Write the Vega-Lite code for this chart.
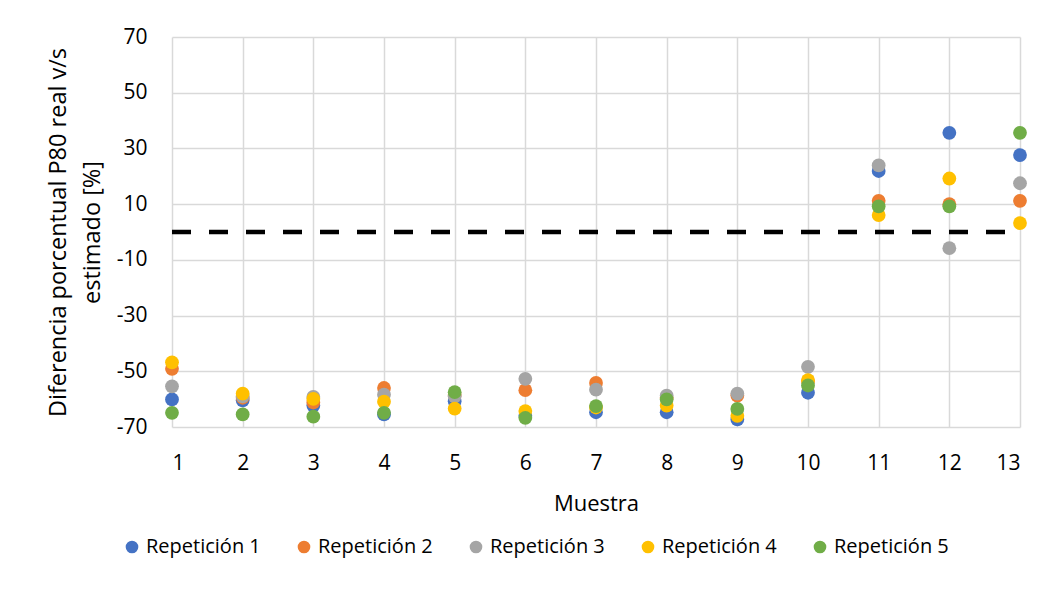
{
  "$schema": "https://vega.github.io/schema/vega-lite/v6.json",
  "width": 848,
  "height": 390,
  "autosize": "none",
  "padding": {"left": 172, "top": 37, "right": 30, "bottom": 181},
  "background": "white",
  "config": {
    "font": "Open Sans",
    "view": {"stroke": null},
    "axis": {"labelFont": "Open Sans", "titleFont": "Open Sans", "labelColor": "#000000", "titleColor": "#000000", "titleFontWeight": "normal", "gridColor": "#D9D9D9", "gridWidth": 1.5, "domain": false, "ticks": false}
  },
  "datasets": {
    "pts": [
      {"muestra": 1, "serie": "Repetición 1", "valor": -60.1},
      {"muestra": 2, "serie": "Repetición 1", "valor": -60.4},
      {"muestra": 3, "serie": "Repetición 1", "valor": -62.3},
      {"muestra": 4, "serie": "Repetición 1", "valor": -65.5},
      {"muestra": 5, "serie": "Repetición 1", "valor": -60.8},
      {"muestra": 6, "serie": "Repetición 1", "valor": -66.0},
      {"muestra": 7, "serie": "Repetición 1", "valor": -64.7},
      {"muestra": 8, "serie": "Repetición 1", "valor": -64.7},
      {"muestra": 9, "serie": "Repetición 1", "valor": -67.3},
      {"muestra": 10, "serie": "Repetición 1", "valor": -57.7},
      {"muestra": 11, "serie": "Repetición 1", "valor": 21.9},
      {"muestra": 12, "serie": "Repetición 1", "valor": 35.6},
      {"muestra": 13, "serie": "Repetición 1", "valor": 27.6},
      {"muestra": 1, "serie": "Repetición 2", "valor": -49.1},
      {"muestra": 2, "serie": "Repetición 2", "valor": -59.5},
      {"muestra": 3, "serie": "Repetición 2", "valor": -61.2},
      {"muestra": 4, "serie": "Repetición 2", "valor": -56.0},
      {"muestra": 5, "serie": "Repetición 2", "valor": -58.5},
      {"muestra": 6, "serie": "Repetición 2", "valor": -56.8},
      {"muestra": 7, "serie": "Repetición 2", "valor": -54.2},
      {"muestra": 8, "serie": "Repetición 2", "valor": -59.5},
      {"muestra": 9, "serie": "Repetición 2", "valor": -58.7},
      {"muestra": 10, "serie": "Repetición 2", "valor": -53.5},
      {"muestra": 11, "serie": "Repetición 2", "valor": 11.2},
      {"muestra": 12, "serie": "Repetición 2", "valor": 10.0},
      {"muestra": 13, "serie": "Repetición 2", "valor": 11.2},
      {"muestra": 1, "serie": "Repetición 3", "valor": -55.4},
      {"muestra": 2, "serie": "Repetición 3", "valor": -59.0},
      {"muestra": 3, "serie": "Repetición 3", "valor": -59.2},
      {"muestra": 4, "serie": "Repetición 3", "valor": -58.4},
      {"muestra": 5, "serie": "Repetición 3", "valor": -59.0},
      {"muestra": 6, "serie": "Repetición 3", "valor": -52.7},
      {"muestra": 7, "serie": "Repetición 3", "valor": -56.6},
      {"muestra": 8, "serie": "Repetición 3", "valor": -58.7},
      {"muestra": 9, "serie": "Repetición 3", "valor": -58.0},
      {"muestra": 10, "serie": "Repetición 3", "valor": -48.4},
      {"muestra": 11, "serie": "Repetición 3", "valor": 23.9},
      {"muestra": 12, "serie": "Repetición 3", "valor": -5.8},
      {"muestra": 13, "serie": "Repetición 3", "valor": 17.5},
      {"muestra": 1, "serie": "Repetición 4", "valor": -46.8},
      {"muestra": 2, "serie": "Repetición 4", "valor": -58.0},
      {"muestra": 3, "serie": "Repetición 4", "valor": -59.9},
      {"muestra": 4, "serie": "Repetición 4", "valor": -60.9},
      {"muestra": 5, "serie": "Repetición 4", "valor": -63.4},
      {"muestra": 6, "serie": "Repetición 4", "valor": -64.3},
      {"muestra": 7, "serie": "Repetición 4", "valor": -63.0},
      {"muestra": 8, "serie": "Repetición 4", "valor": -62.3},
      {"muestra": 9, "serie": "Repetición 4", "valor": -66.0},
      {"muestra": 10, "serie": "Repetición 4", "valor": -53.2},
      {"muestra": 11, "serie": "Repetición 4", "valor": 6.1},
      {"muestra": 12, "serie": "Repetición 4", "valor": 19.2},
      {"muestra": 13, "serie": "Repetición 4", "valor": 3.2},
      {"muestra": 1, "serie": "Repetición 5", "valor": -64.9},
      {"muestra": 2, "serie": "Repetición 5", "valor": -65.5},
      {"muestra": 3, "serie": "Repetición 5", "valor": -66.3},
      {"muestra": 4, "serie": "Repetición 5", "valor": -64.9},
      {"muestra": 5, "serie": "Repetición 5", "valor": -57.5},
      {"muestra": 6, "serie": "Repetición 5", "valor": -66.7},
      {"muestra": 7, "serie": "Repetición 5", "valor": -62.5},
      {"muestra": 8, "serie": "Repetición 5", "valor": -60.1},
      {"muestra": 9, "serie": "Repetición 5", "valor": -63.5},
      {"muestra": 10, "serie": "Repetición 5", "valor": -55.1},
      {"muestra": 11, "serie": "Repetición 5", "valor": 9.2},
      {"muestra": 12, "serie": "Repetición 5", "valor": 9.2},
      {"muestra": 13, "serie": "Repetición 5", "valor": 35.6}
    ],
    "ref": [
      {"muestra": 1, "valor": 0},
      {"muestra": 13, "valor": 0}
    ]
  },
  "layer": [
    {
      "data": {"name": "pts"},
      "mark": {"type": "point", "filled": true, "opacity": 1, "size": 190, "shape": "circle"},
      "encoding": {
        "x": {"field": "muestra", "type": "quantitative", "scale": {"domain": [1, 13], "nice": false, "zero": false},
              "axis": {"values": [1,2,3,4,5,6,7,8,9,10,11,12,13], "format": "d", "title": "Muestra", "labelFontSize": 21, "titleFontSize": 22, "labelPadding": 25, "titlePadding": 20, "grid": true}},
        "y": {"field": "valor", "type": "quantitative", "scale": {"domain": [-70, 70], "nice": false, "zero": false},
              "axis": {"values": [-70,-50,-30,-10,10,30,50,70], "labelExpr": "'' + datum.value", "title": ["Diferencia porcentual P80 real v/s", "estimado [%]"], "labelFontSize": 21, "titleFontSize": 23.5, "titleLineHeight": 34, "labelPadding": 25, "titlePadding": 12, "grid": true}},
        "color": {"field": "serie", "type": "nominal",
                  "scale": {"domain": ["Repetición 1","Repetición 2","Repetición 3","Repetición 4","Repetición 5"], "range": ["#4472C4","#ED7D31","#A5A5A5","#FFC000","#70AD47"]},
                  "legend": {"title": null, "orient": "none", "legendX": -50, "legendY": 500, "direction": "horizontal", "columns": 5, "labelFontSize": 20, "labelFont": "Open Sans", "labelColor": "#000000", "symbolSize": 160, "symbolType": "circle", "columnPadding": 33, "labelOffset": 4}}
      }
    },
    {
      "data": {"name": "ref"},
      "mark": {"type": "line", "color": "#000000", "strokeWidth": 4.5, "strokeDash": [19, 18]},
      "encoding": {
        "x": {"field": "muestra", "type": "quantitative"},
        "y": {"field": "valor", "type": "quantitative"}
      }
    }
  ]
}
